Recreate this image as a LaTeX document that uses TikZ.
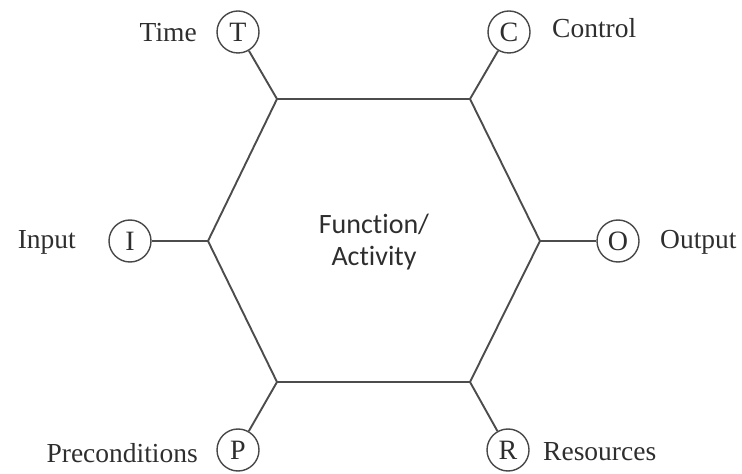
\documentclass[tikz,border=0pt]{standalone}
\usepackage{fontspec}
\setmainfont{Liberation Serif}
\newfontfamily\funcfont[Ligatures=NoCommon]{Carlito}
\begin{document}
\begin{tikzpicture}[x=1bp,y=-1bp,
  edge/.style={draw=black!70, line width=1.9bp},
  port/.style={circle, draw=black!72, line width=1.4bp, minimum size=42bp, inner sep=0pt,
    text=black!82, font=\fontsize{28bp}{30bp}\selectfont},
  portlabel/.style={text=black!82, inner sep=0pt, font=\fontsize{27.5bp}{30bp}\selectfont}]
  \useasboundingbox (0,0) rectangle (742,474);
  % hexagon corners
  \coordinate (tl) at (277,99);
  \coordinate (tr) at (470,99);
  \coordinate (rr) at (540,241);
  \coordinate (br) at (470,382);
  \coordinate (bl) at (277,382);
  \coordinate (ll) at (208,241);
  \draw[edge, line join=miter] (tl) -- (tr) -- (rr) -- (br) -- (bl) -- (ll) -- cycle;
  % central label
  \node (fn) [align=center, text=black!82, inner sep=0pt,
    font=\funcfont\fontsize{28bp}{32bp}\selectfont] at (374,242) {Function/\\Activity};
  % ports
  \node (T) [port] at (238,32) {T};
  \node (C) [port] at (509,32) {C};
  \node (I) [port] at (130,241) {I};
  \node (O) [port] at (618,241) {O};
  \node (P) [port] at (238,450) {P};
  \node (R) [port] at (508,450) {R};
  % connectors
  \draw[edge] (tl) -- (T);
  \draw[edge] (tr) -- (C);
  \draw[edge] (ll) -- (I);
  \draw[edge] (rr) -- (O);
  \draw[edge] (bl) -- (P);
  \draw[edge] (br) -- (R);
  % labels
  \node (tT) [portlabel, anchor=base east] at (197,42) {Time};
  \node (tC) [portlabel, anchor=base west] at (552,38) {Control};
  \node (tI) [portlabel, anchor=base east] at (76,249) {Input};
  \node (tO) [portlabel, anchor=base west] at (660,249) {Output};
  \node (tP) [portlabel, anchor=base east] at (198,462) {Preconditions};
  \node (tR) [portlabel, anchor=base west] at (543,460) {Resources};
\end{tikzpicture}
\end{document}
